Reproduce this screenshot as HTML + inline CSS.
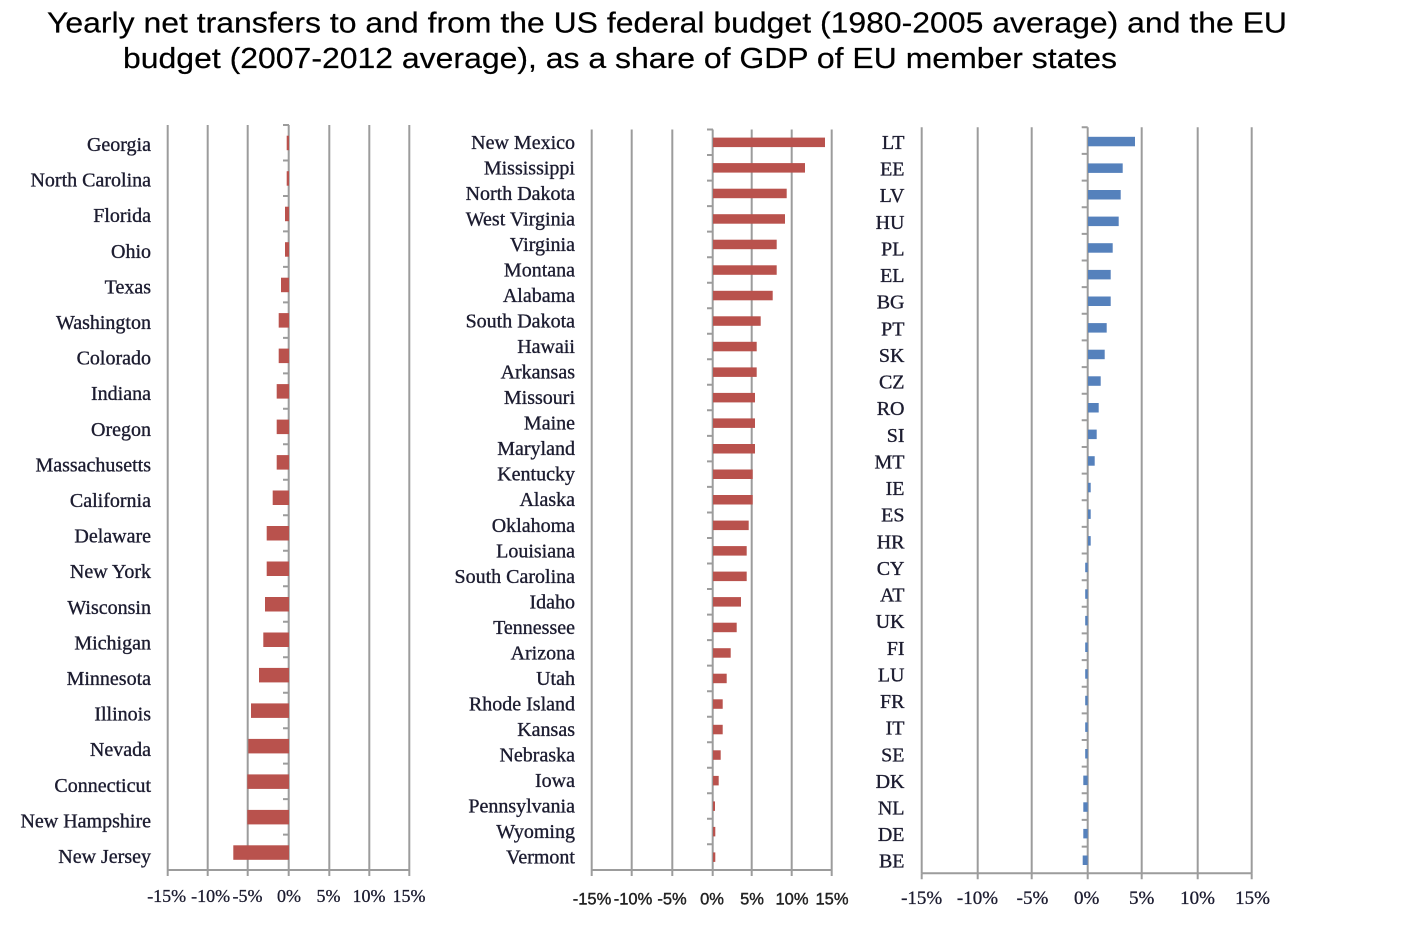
<!DOCTYPE html>
<html><head><meta charset="utf-8"><style>
html,body{margin:0;padding:0;background:#fff;}
svg{display:block;}
.t{font-family:"Liberation Serif",serif;font-size:20px;fill:#1c1c30;stroke:#1c1c30;stroke-width:0.35;}
.tk{font-family:"Liberation Serif",serif;font-size:18px;fill:#1c1c30;stroke:#1c1c30;stroke-width:0.3;text-anchor:middle;}
.tkm{font-family:"Liberation Sans",sans-serif;font-size:16.5px;fill:#222;stroke:#222;stroke-width:0.4;text-anchor:middle;}
.tkr{font-family:"Liberation Serif",serif;font-size:19px;fill:#1c1c30;stroke:#1c1c30;stroke-width:0.3;text-anchor:middle;}
.g{stroke:#9c9c9c;stroke-width:2;fill:none;}
.tt{font-family:"Liberation Sans",sans-serif;font-size:28.5px;fill:#000;stroke:#000;stroke-width:0.2;}
</style></head><body>
<svg width="1406" height="936" viewBox="0 0 1406 936" xmlns="http://www.w3.org/2000/svg">
<rect width="1406" height="936" fill="#fff"/>
<text class="tt" x="47" y="32.5" textLength="1240" lengthAdjust="spacingAndGlyphs">Yearly net transfers to and from the US federal budget (1980-2005 average) and the EU</text>
<text class="tt" x="123" y="68" textLength="994" lengthAdjust="spacingAndGlyphs">budget (2007-2012 average), as a share of GDP of EU member states</text>

<!-- LEFT PANEL -->
<g class="g">
<path d="M167.7 125V870M207.7 125V870M247.7 125V870M288.7 125V870M329.3 125V870M369.3 125V870M409.3 125V870"/>
<path d="M167.7 870H409.3M167.7 870v6M207.7 870v6M247.7 870v6M288.7 870v6M329.3 870v6M369.3 870v6M409.3 870v6"/>
<path d="M283 125h6M283 160.5h6M283 196h6M283 231.4h6M283 266.9h6M283 302.4h6M283 337.9h6M283 373.4h6M283 408.8h6M283 444.3h6M283 479.8h6M283 515.3h6M283 550.8h6M283 586.2h6M283 621.7h6M283 657.2h6M283 692.7h6M283 728.2h6M283 763.6h6M283 799.1h6M283 834.6h6"/>
</g>
<g fill="#b9524d">
<rect x="286.7" y="135.7" width="2.3" height="14.5"/>
<rect x="286.7" y="171.2" width="2.3" height="14.5"/>
<rect x="285" y="206.7" width="4" height="14.5"/>
<rect x="285" y="242.2" width="4" height="14.5"/>
<rect x="281" y="277.7" width="8" height="14.5"/>
<rect x="278.7" y="313.1" width="10.3" height="14.5"/>
<rect x="278.7" y="348.6" width="10.3" height="14.5"/>
<rect x="276.7" y="384.1" width="12.3" height="14.5"/>
<rect x="276.7" y="419.6" width="12.3" height="14.5"/>
<rect x="276.7" y="455.1" width="12.3" height="14.5"/>
<rect x="272.7" y="490.5" width="16.3" height="14.5"/>
<rect x="266.7" y="526" width="22.3" height="14.5"/>
<rect x="266.7" y="561.5" width="22.3" height="14.5"/>
<rect x="265" y="597" width="24" height="14.5"/>
<rect x="263.3" y="632.5" width="25.7" height="14.5"/>
<rect x="259" y="667.9" width="30" height="14.5"/>
<rect x="251" y="703.4" width="38" height="14.5"/>
<rect x="248.3" y="738.9" width="40.7" height="14.5"/>
<rect x="247.3" y="774.4" width="41.7" height="14.5"/>
<rect x="247.3" y="809.9" width="41.7" height="14.5"/>
<rect x="233.3" y="845.3" width="55.7" height="14.5"/>
</g>
<g class="t" text-anchor="end">
<text x="151" y="151">Georgia</text>
<text x="151" y="186.6">North Carolina</text>
<text x="151" y="222.2">Florida</text>
<text x="151" y="257.8">Ohio</text>
<text x="151" y="293.4">Texas</text>
<text x="151" y="329">Washington</text>
<text x="151" y="364.6">Colorado</text>
<text x="151" y="400.2">Indiana</text>
<text x="151" y="435.8">Oregon</text>
<text x="151" y="471.4">Massachusetts</text>
<text x="151" y="507">California</text>
<text x="151" y="542.6">Delaware</text>
<text x="151" y="578.2">New York</text>
<text x="151" y="613.8">Wisconsin</text>
<text x="151" y="649.4">Michigan</text>
<text x="151" y="685">Minnesota</text>
<text x="151" y="720.6">Illinois</text>
<text x="151" y="756.2">Nevada</text>
<text x="151" y="791.8">Connecticut</text>
<text x="151" y="827.4">New Hampshire</text>
<text x="151" y="863">New Jersey</text>
</g>
<g class="tk">
<text x="166.7" y="902">-15%</text>
<text x="210.6" y="902">-10%</text>
<text x="247.5" y="902">-5%</text>
<text x="289" y="902">0%</text>
<text x="328.5" y="902">5%</text>
<text x="369" y="902">10%</text>
<text x="409" y="902">15%</text>
</g>

<!-- MIDDLE PANEL -->
<g class="g">
<path d="M591.7 129.5V870M631.7 129.5V870M672.3 129.5V870M712.7 129.5V870M751.7 129.5V870M791.7 129.5V870M831.7 129.5V870"/>
<path d="M591.7 870H831.7M591.7 870v6M631.7 870v6M672.3 870v6M712.7 870v6M751.7 870v6M791.7 870v6M831.7 870v6"/>
<path d="M707 129.5h6M707 155h6M707 180.6h6M707 206.1h6M707 231.6h6M707 257.2h6M707 282.7h6M707 308.2h6M707 333.7h6M707 359.3h6M707 384.8h6M707 410.3h6M707 435.9h6M707 461.4h6M707 486.9h6M707 512.5h6M707 538h6M707 563.5h6M707 589h6M707 614.6h6M707 640.1h6M707 665.6h6M707 691.2h6M707 716.7h6M707 742.2h6M707 767.8h6M707 793.3h6M707 818.8h6M707 844.3h6"/>
</g>
<g fill="#b9524d">
<rect x="713" y="137.6" width="112" height="9.5"/>
<rect x="713" y="163.1" width="92" height="9.5"/>
<rect x="713" y="188.7" width="73.7" height="9.5"/>
<rect x="713" y="214.2" width="72" height="9.5"/>
<rect x="713" y="239.7" width="63.7" height="9.5"/>
<rect x="713" y="265.3" width="63.7" height="9.5"/>
<rect x="713" y="290.8" width="59.7" height="9.5"/>
<rect x="713" y="316.3" width="47.7" height="9.5"/>
<rect x="713" y="341.8" width="43.7" height="9.5"/>
<rect x="713" y="367.4" width="43.7" height="9.5"/>
<rect x="713" y="392.9" width="42" height="9.5"/>
<rect x="713" y="418.4" width="42" height="9.5"/>
<rect x="713" y="444" width="42" height="9.5"/>
<rect x="713" y="469.5" width="39.7" height="9.5"/>
<rect x="713" y="495" width="39.7" height="9.5"/>
<rect x="713" y="520.6" width="35.7" height="9.5"/>
<rect x="713" y="546.1" width="33.7" height="9.5"/>
<rect x="713" y="571.6" width="33.7" height="9.5"/>
<rect x="713" y="597.1" width="28" height="9.5"/>
<rect x="713" y="622.7" width="23.7" height="9.5"/>
<rect x="713" y="648.2" width="17.7" height="9.5"/>
<rect x="713" y="673.7" width="13.7" height="9.5"/>
<rect x="713" y="699.3" width="9.7" height="9.5"/>
<rect x="713" y="724.8" width="9.7" height="9.5"/>
<rect x="713" y="750.3" width="7.7" height="9.5"/>
<rect x="713" y="775.9" width="5.7" height="9.5"/>
<rect x="713" y="801.4" width="2" height="9.5"/>
<rect x="713" y="826.9" width="2.3" height="9.5"/>
<rect x="713" y="852.4" width="2.3" height="9.5"/>
</g>
<g class="t" text-anchor="end">
<text x="575" y="148.8">New Mexico</text>
<text x="575" y="174.3">Mississippi</text>
<text x="575" y="199.9">North Dakota</text>
<text x="575" y="225.4">West Virginia</text>
<text x="575" y="250.9">Virginia</text>
<text x="575" y="276.5">Montana</text>
<text x="575" y="302">Alabama</text>
<text x="575" y="327.5">South Dakota</text>
<text x="575" y="353">Hawaii</text>
<text x="575" y="378.6">Arkansas</text>
<text x="575" y="404.1">Missouri</text>
<text x="575" y="429.6">Maine</text>
<text x="575" y="455.2">Maryland</text>
<text x="575" y="480.7">Kentucky</text>
<text x="575" y="506.2">Alaska</text>
<text x="575" y="531.8">Oklahoma</text>
<text x="575" y="557.3">Louisiana</text>
<text x="575" y="582.8">South Carolina</text>
<text x="575" y="608.3">Idaho</text>
<text x="575" y="633.9">Tennessee</text>
<text x="575" y="659.4">Arizona</text>
<text x="575" y="684.9">Utah</text>
<text x="575" y="710.5">Rhode Island</text>
<text x="575" y="736">Kansas</text>
<text x="575" y="761.5">Nebraska</text>
<text x="575" y="787.1">Iowa</text>
<text x="575" y="812.6">Pennsylvania</text>
<text x="575" y="838.1">Wyoming</text>
<text x="575" y="863.6">Vermont</text>
</g>
<g class="tkm">
<text x="592" y="904.5">-15%</text>
<text x="633" y="904.5">-10%</text>
<text x="672" y="904.5">-5%</text>
<text x="712" y="904.5">0%</text>
<text x="752" y="904.5">5%</text>
<text x="792" y="904.5">10%</text>
<text x="832" y="904.5">15%</text>
</g>

<!-- RIGHT PANEL -->
<g class="g">
<path d="M921.7 127.3V873.3M977.7 127.3V873.3M1031.7 127.3V873.3M1087.7 127.3V873.3M1141.7 127.3V873.3M1197.7 127.3V873.3M1251.7 127.3V873.3"/>
<path d="M921.7 873.3H1251.7M921.7 873.3v6M977.7 873.3v6M1031.7 873.3v6M1087.7 873.3v6M1141.7 873.3v6M1197.7 873.3v6M1251.7 873.3v6"/>
<path d="M1081.7 127.3h6M1081.7 153.9h6M1081.7 180.6h6M1081.7 207.2h6M1081.7 233.9h6M1081.7 260.5h6M1081.7 287.1h6M1081.7 313.8h6M1081.7 340.4h6M1081.7 367.1h6M1081.7 393.7h6M1081.7 420.3h6M1081.7 447h6M1081.7 473.6h6M1081.7 500.2h6M1081.7 526.9h6M1081.7 553.5h6M1081.7 580.2h6M1081.7 606.8h6M1081.7 633.4h6M1081.7 660.1h6M1081.7 686.7h6M1081.7 713.4h6M1081.7 740h6M1081.7 766.6h6M1081.7 793.3h6M1081.7 819.9h6M1081.7 846.6h6"/>
</g>
<g fill="#5581bc">
<rect x="1088" y="136.8" width="47" height="9.5"/>
<rect x="1088" y="163.4" width="34.7" height="9.5"/>
<rect x="1088" y="190" width="32.7" height="9.5"/>
<rect x="1088" y="216.6" width="30.7" height="9.5"/>
<rect x="1088" y="243.2" width="24.7" height="9.5"/>
<rect x="1088" y="269.9" width="22.7" height="9.5"/>
<rect x="1088" y="296.5" width="22.7" height="9.5"/>
<rect x="1088" y="323.1" width="18.7" height="9.5"/>
<rect x="1088" y="349.7" width="16.7" height="9.5"/>
<rect x="1088" y="376.3" width="12.7" height="9.5"/>
<rect x="1088" y="403" width="10.7" height="9.5"/>
<rect x="1088" y="429.6" width="8.7" height="9.5"/>
<rect x="1088" y="456.2" width="6.7" height="9.5"/>
<rect x="1088" y="482.8" width="2.7" height="9.5"/>
<rect x="1088" y="509.4" width="2.7" height="9.5"/>
<rect x="1088" y="536.1" width="2.7" height="9.5"/>
<rect x="1085.2" y="562.7" width="2.5" height="9.5"/>
<rect x="1085.2" y="589.3" width="2.5" height="9.5"/>
<rect x="1085.2" y="615.9" width="2.5" height="9.5"/>
<rect x="1085.2" y="642.5" width="2.5" height="9.5"/>
<rect x="1085.2" y="669.2" width="2.5" height="9.5"/>
<rect x="1085.2" y="695.8" width="2.5" height="9.5"/>
<rect x="1085.2" y="722.4" width="2.5" height="9.5"/>
<rect x="1085.2" y="749" width="2.5" height="9.5"/>
<rect x="1083.3" y="775.6" width="4.4" height="9.5"/>
<rect x="1083.3" y="802.3" width="4.4" height="9.5"/>
<rect x="1083.3" y="828.9" width="4.4" height="9.5"/>
<rect x="1082.7" y="855.5" width="5" height="9.5"/>
</g>
<g class="t" text-anchor="end">
<text x="904.5" y="149">LT</text>
<text x="904.5" y="175.6">EE</text>
<text x="904.5" y="202.2">LV</text>
<text x="904.5" y="228.9">HU</text>
<text x="904.5" y="255.5">PL</text>
<text x="904.5" y="282.1">EL</text>
<text x="904.5" y="308.7">BG</text>
<text x="904.5" y="335.3">PT</text>
<text x="904.5" y="362">SK</text>
<text x="904.5" y="388.6">CZ</text>
<text x="904.5" y="415.2">RO</text>
<text x="904.5" y="441.8">SI</text>
<text x="904.5" y="468.4">MT</text>
<text x="904.5" y="495.1">IE</text>
<text x="904.5" y="521.7">ES</text>
<text x="904.5" y="548.3">HR</text>
<text x="904.5" y="574.9">CY</text>
<text x="904.5" y="601.5">AT</text>
<text x="904.5" y="628.2">UK</text>
<text x="904.5" y="654.8">FI</text>
<text x="904.5" y="681.4">LU</text>
<text x="904.5" y="708">FR</text>
<text x="904.5" y="734.6">IT</text>
<text x="904.5" y="761.3">SE</text>
<text x="904.5" y="787.9">DK</text>
<text x="904.5" y="814.5">NL</text>
<text x="904.5" y="841.1">DE</text>
<text x="904.5" y="867.7">BE</text>
</g>
<g class="tkr">
<text x="921.7" y="904">-15%</text>
<text x="977.5" y="904">-10%</text>
<text x="1032.5" y="904">-5%</text>
<text x="1086.7" y="904">0%</text>
<text x="1141.7" y="904">5%</text>
<text x="1197.5" y="904">10%</text>
<text x="1252.5" y="904">15%</text>
</g>
</svg>
</body></html>
